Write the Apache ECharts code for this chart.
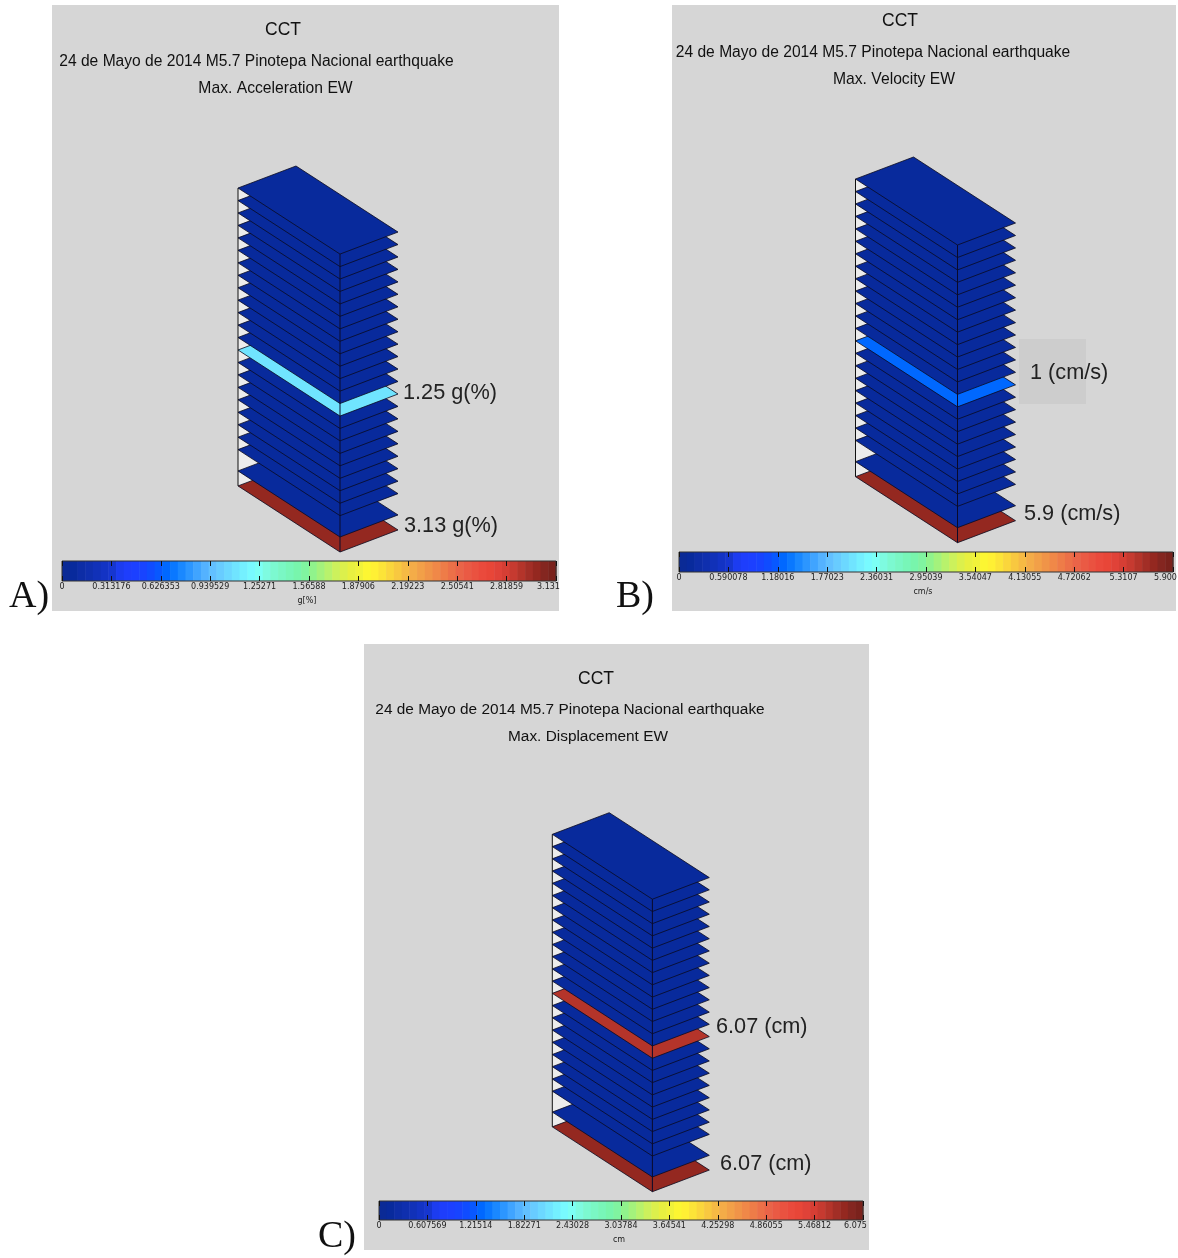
<!DOCTYPE html>
<html>
<head>
<meta charset="utf-8">
<style>html,body{margin:0;padding:0;background:#fff}#c{width:1178px;height:1258px}</style>
<script src="https://cdn.jsdelivr.net/npm/echarts@6/dist/echarts.min.js"></script>
</head>
<body>
<div id="c"></div>
<script>
// ---------- data ----------
const floorElevations = [0,15,36.3,48.7,61.2,73.6,86.1,98.5,111,123.4,135.8,148.3,160.7,173.2,185.6,198,210.5,222.9,235.4,247.8,260.3,272.7,285.1,297.6];
const accelerationValues = [3.06,0.07,0.07,0.07,0.07,0.07,0.07,0.07,0.07,0.07,1.13,0.07,0.07,0.07,0.07,0.07,0.07,0.07,0.07,0.07,0.07,0.07,0.07,0.07];
const velocityValues = [5.72,0.13,0.13,0.13,0.13,0.13,0.13,0.13,0.13,0.13,1.24,0.13,0.13,0.13,0.13,0.13,0.13,0.13,0.13,0.13,0.13,0.13,0.13,0.13];
const displacementValues = [5.9,0.13,0.13,0.13,0.13,0.13,0.13,0.13,0.13,0.13,5.72,0.13,0.13,0.13,0.13,0.13,0.13,0.13,0.13,0.13,0.13,0.13,0.13,0.13];
const accelerationTicks = [0,0.313176,0.626353,0.939529,1.25271,1.56588,1.87906,2.19223,2.50541,2.81859,3.13176];
const velocityTicks = [0,0.590078,1.18016,1.77023,2.36031,2.95039,3.54047,4.13055,4.72062,5.3107,5.90078];
const displacementTicks = [0,0.607569,1.21514,1.82271,2.43028,3.03784,3.64541,4.25298,4.86055,5.46812,6.07569];
const accelerationLabels = ['0','0.313176','0.626353','0.939529','1.25271','1.56588','1.87906','2.19223','2.50541','2.81859','3.131'];
const velocityLabels = ['0','0.590078','1.18016','1.77023','2.36031','2.95039','3.54047','4.13055','4.72062','5.3107','5.900'];
const displacementLabels = ['0','0.607569','1.21514','1.82271','2.43028','3.03784','3.64541','4.25298','4.86055','5.46812','6.075'];
const colormap = ['#0a2a96','#082a9c','#0d2da6','#0f2fae','#1131b8','#1333c4','#1636d0',
 '#1c3cf0','#1e3efc','#1c40ff','#1844ff','#104cff','#0858ff',
 '#0068ff','#0a78ff','#1a88ff','#2c96ff','#40a4ff','#54b2ff','#62c0ff',
 '#68ccff','#6cd8ff','#70e4ff','#74f0ff','#78faff','#7cfff5',
 '#7efbe0','#7cf9d0','#7af7c4','#78f6b8','#78f5ac','#80f4a0',
 '#90f38c','#a4f27c','#b8f26c','#ccf15c','#dcf04c','#e8f040','#f0f23a',
 '#fcf632','#fff034','#fce438','#fad63c','#f8c840','#f6ba44',
 '#f4ac48','#f2a048','#f09448','#f08848','#ee7c48','#ec7048','#ea6448',
 '#ea5a44','#ea5240','#ea4a3c','#e84638','#e04238','#d63e34',
 '#c63a30','#b4342a','#a22e26','#942820','#842620','#7a221c'];

// ---------- layout ----------
const PANEL = '#d6d6d6', FONT = '"Liberation Sans", Arial, sans-serif';
const panels = [
 {rect:[52,5,507,606], scene:[238,166,160,386], bar:[62,561,494,20], values:accelerationValues, ticks:accelerationTicks, labels:accelerationLabels,
  titles:[['CCT',283,30,17.5],['24 de Mayo de 2014 M5.7 Pinotepa Nacional earthquake',256.5,62,15.6],['Max. Acceleration EW',275.5,89,15.7]],
  notes:[['1.25 g(%)',403,393],['3.13 g(%)',404,526]], unit:['g[%]',307,601], letter:['A)',9,597]},
 {rect:[672,5,504,606], scene:[855.5,157,160,385.7], bar:[679,552,494,20], values:velocityValues, ticks:velocityTicks, labels:velocityLabels,
  titles:[['CCT',900,21,17.5],['24 de Mayo de 2014 M5.7 Pinotepa Nacional earthquake',873,53,15.6],['Max. Velocity EW',894,80,15.7]],
  notes:[['1 (cm/s)',1030,373],['5.9 (cm/s)',1024,514]], unit:['cm/s',923,592], letter:['B)',616,597], box:[1019,339,67,65]},
 {rect:[364,644,505,606], scene:[552.3,812.7,157,379], bar:[379,1201,484,19], values:displacementValues, ticks:displacementTicks, labels:displacementLabels,
  titles:[['CCT',596,679,17.5],['24 de Mayo de 2014 M5.7 Pinotepa Nacional earthquake',570,710,15.4],['Max. Displacement EW',588,737,15.4]],
  notes:[['6.07 (cm)',716,1027],['6.07 (cm)',720,1164]], unit:['cm',619,1240], letter:['C)',318,1237]}
];

// oblique projection of a floor plan point (u along long side, v along short side) at elevation e
const project = (u,v,e) => [u*102 + v*58, e - u*66 + v*22];
const TOP = floorElevations[floorElevations.length-1];

const grids=[], xAxes=[], yAxes=[], series=[], graphics=[];
const txt = (t,x,y,size,opt={}) => ({type:'text',z:20,silent:true,style:Object.assign({
  text:t,x,y,font:size+'px '+FONT,fill:'#1a1a1a',textAlign:'left',textVerticalAlign:'middle'},opt)});

panels.forEach((p,pi)=>{
  graphics.push({type:'rect',z:-10,silent:true,shape:{x:p.rect[0],y:p.rect[1],width:p.rect[2],height:p.rect[3]},style:{fill:PANEL}});
  if(p.box) graphics.push({type:'rect',z:-9,silent:true,shape:{x:p.box[0],y:p.box[1],width:p.box[2],height:p.box[3]},style:{fill:'#cdcdcd'}});
  p.titles.forEach(t=>graphics.push(txt(t[0],t[1],t[2],t[3],{textAlign:'center',fill:'#111'})));
  p.notes.forEach(t=>graphics.push(txt(t[0],t[1],t[2],21.7,{fill:'#222'})));
  graphics.push(txt(p.unit[0],p.unit[1],p.unit[2],8,{textAlign:'center',font:'8px "DejaVu Sans"'}));
  graphics.push(txt(p.letter[0],p.letter[1],p.letter[2],38,{font:'38px "Liberation Serif", serif',fill:'#111'}));

  // scene grid
  const sg = grids.length;
  grids.push({left:p.scene[0],top:p.scene[1],width:p.scene[2],height:p.scene[3],containLabel:false});
  const sx = xAxes.length, sy = yAxes.length;
  xAxes.push({type:'value',gridIndex:sg,min:0,max:160,show:false});
  yAxes.push({type:'value',gridIndex:sg,min:-66,max:TOP+22,show:false});
  const max = p.ticks[p.ticks.length-1];

  series.push({type:'custom',xAxisIndex:sx,yAxisIndex:sy,clip:false,silent:true,z:2,data:[[0]],
    renderItem:(params,api)=>({type:'polygon',shape:{points:[project(0,0,0),project(0,1,0),project(0,1,TOP),project(0,0,TOP)].map(c=>api.coord(c))},style:{fill:'#ececec'}})});

  series.push({type:'custom',xAxisIndex:sx,yAxisIndex:sy,clip:false,silent:true,z:3,
    data:floorElevations.map((e,i)=>[e,p.values[i]]),
    renderItem:(params,api)=>{
      const e=api.value(0), v=api.value(1);
      const idx=Math.min(colormap.length-1,Math.floor(v/max*(colormap.length-1)));
      const pts=[[0,0],[1,0],[1,1],[0,1]].map(q=>api.coord(project(q[0],q[1],e)));
      return {type:'polygon',shape:{points:pts},style:{fill:colormap[idx],stroke:'#0a0a1e',lineWidth:0.8}};
    }});

  series.push({type:'custom',xAxisIndex:sx,yAxisIndex:sy,clip:false,silent:true,z:4,data:[[0,0],[1,0]],
    renderItem:(params,api)=>{
      const a=api.coord(project(api.value(0),api.value(1),0)), b=api.coord(project(api.value(0),api.value(1),TOP));
      return {type:'line',shape:{x1:a[0],y1:a[1],x2:b[0],y2:b[1]},style:{stroke:params.dataIndex? '#0a0a2a':'#111',lineWidth:1}};
    }});

  // colour bar grid
  const bg = grids.length;
  grids.push({left:p.bar[0],top:p.bar[1],width:p.bar[2],height:p.bar[3]});
  const bx = xAxes.length, by = yAxes.length;
  const axisBase = {type:'value',gridIndex:bg,min:0,max:max,z:6,axisLine:{show:false},splitLine:{show:false},
     axisTick:{show:true,inside:true,length:5,customValues:p.ticks,lineStyle:{color:'#111',width:1}}};
  xAxes.push(Object.assign({},axisBase,{position:'bottom',
     axisLabel:{show:true,customValues:p.ticks,margin:2,hideOverlap:false,showMinLabel:true,showMaxLabel:true,
       fontFamily:'"DejaVu Sans"',fontSize:8,color:'#222',
       formatter:(v)=>{const i=p.ticks.indexOf(v);return i<0||i===p.ticks.length-1?'':p.labels[i];}}}));
  xAxes.push(Object.assign({},axisBase,{position:'top',axisLabel:{show:false}}));
  yAxes.push({type:'value',gridIndex:bg,min:0,max:1,show:false});

  series.push({type:'custom',xAxisIndex:bx,yAxisIndex:by,silent:true,clip:false,z:2,
    data:colormap.map((c,i)=>[i]),
    renderItem:(params,api)=>{
      const i=api.value(0);
      const a=api.coord([max*i/colormap.length,1]), b=api.coord([max*(i+1)/colormap.length,0]);
      return {type:'rect',shape:{x:a[0],y:a[1],width:b[0]-a[0]+0.5,height:b[1]-a[1]},style:{fill:colormap[i]}};
    }});
  series.push({type:'custom',xAxisIndex:bx,yAxisIndex:by,silent:true,clip:false,z:5,data:[[0]],
    renderItem:(params,api)=>{
      const a=api.coord([0,1]), b=api.coord([max,0]);
      return {type:'group',children:[
        {type:'rect',shape:{x:a[0],y:a[1],width:b[0]-a[0],height:b[1]-a[1]},style:{fill:'none',stroke:'#333',lineWidth:1}},
        {type:'text',style:{text:p.labels[p.labels.length-1],x:b[0]-19,y:b[1]+2,font:'8px "DejaVu Sans"',fill:'#222',textAlign:'left',textVerticalAlign:'top'}}
      ]};
    }});
});

const chart = echarts.init(document.getElementById('c'),null,{renderer:'canvas'});
chart.setOption({animation:false,backgroundColor:'#fff',grid:grids,xAxis:xAxes,yAxis:yAxes,series:series,graphic:{elements:graphics}});
</script>
</body>
</html>
